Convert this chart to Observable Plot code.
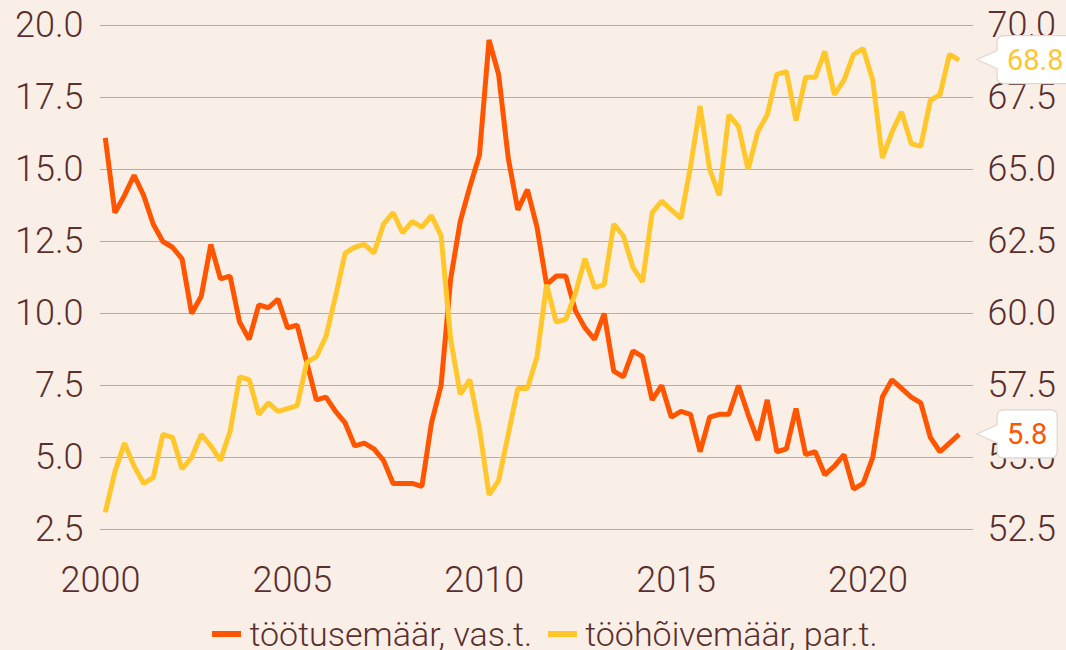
<!DOCTYPE html>
<html>
<head>
<meta charset="utf-8">
<script src="https://cdn.jsdelivr.net/npm/d3@7"></script>
<script src="https://cdn.jsdelivr.net/npm/@observablehq/plot@0.6"></script>
<style>
  html, body { margin: 0; padding: 0; background: #f9efe6; overflow: hidden; }
  body { width: 1066px; height: 650px; font-family: Roboto, "Noto Sans", sans-serif; color: #5b2f2f; position: relative; }
  #chart svg { display: block; }
  #legend { position: absolute; left: 0; top: 614px; width: 1066px; display: flex; justify-content: center;
            padding-left: 24px; box-sizing: border-box; font-size: 34px; font-weight: 300; line-height: 40px; white-space: nowrap; }
  .item { display: flex; align-items: center; margin: 0 8px; }
  .sw { display: inline-block; width: 29px; height: 6px; margin-right: 8px; }
</style>
</head>
<body>
<div id="chart"></div>
<div id="legend"></div>
<script>
// ---- data ----
const startYear = 2000;            // first quarter: 2000 Q1, last: 2022 Q2
const seriesNames = ["töötusemäär, vas.t.", "tööhõivemäär, par.t."];
const seriesColors = ["#ff5500", "#ffc72c"];
const unemployment = [
  16.1, 13.5, 14.1, 14.8, 14.1, 13.1, 12.5, 12.3, 11.9, 10.0,
  10.6, 12.4, 11.2, 11.3, 9.7, 9.1, 10.3, 10.2, 10.5, 9.5,
  9.6, 8.3, 7.0, 7.1, 6.6, 6.2, 5.4, 5.5, 5.3, 4.9,
  4.1, 4.1, 4.1, 4.0, 6.2, 7.5, 11.2, 13.2, 14.4, 15.5,
  19.5, 18.3, 15.4, 13.6, 14.3, 13.0, 11.0, 11.3, 11.3, 10.1,
  9.5, 9.1, 10.0, 8.0, 7.8, 8.7, 8.5, 7.0, 7.5, 6.4,
  6.6, 6.5, 5.2, 6.4, 6.5, 6.5, 7.5, 6.5, 5.6, 7.0,
  5.2, 5.3, 6.7, 5.1, 5.2, 4.4, 4.7, 5.1, 3.9, 4.1,
  5.0, 7.1, 7.7, 7.4, 7.1, 6.9, 5.7, 5.2, 5.5, 5.8
];
const employment = [
  53.1, 54.5, 55.5, 54.7, 54.1, 54.3, 55.8, 55.7, 54.6, 55.0,
  55.8, 55.4, 54.9, 55.9, 57.8, 57.7, 56.5, 56.9, 56.6, 56.7,
  56.8, 58.3, 58.5, 59.2, 60.6, 62.1, 62.3, 62.4, 62.1, 63.1,
  63.5, 62.8, 63.2, 63.0, 63.4, 62.7, 59.1, 57.2, 57.7, 56.0,
  53.7, 54.2, 55.8, 57.4, 57.4, 58.5, 61.0, 59.7, 59.8, 60.7,
  61.9, 60.9, 61.0, 63.1, 62.7, 61.6, 61.1, 63.5, 63.9, 63.6,
  63.3, 65.1, 67.2, 65.0, 64.1, 66.9, 66.5, 65.0, 66.3, 66.9,
  68.3, 68.4, 66.7, 68.2, 68.2, 69.1, 67.6, 68.1, 69.0, 69.2,
  68.1, 65.4, 66.3, 67.0, 65.9, 65.8, 67.4, 67.6, 69.0, 68.8
];
const leftTicks = [2.5, 5.0, 7.5, 10.0, 12.5, 15.0, 17.5, 20.0];
const rightOffset = 50;             // right axis = left axis + 50
const xTicks = [2000, 2005, 2010, 2015, 2020];
const xDomain = [2000, 2022.75];

// ---- table ----
const rows = unemployment.map((u, i) => ({
  t: startYear + Math.floor(i / 4) + ((i % 4) + 0.5) / 4,
  u,
  e: employment[i]
}));

const textColor = "#5b2f2f";
const gridColor = "#bcaaa5";

const ctx = document.createElement("canvas").getContext("2d");
function textWidth(str, font) { ctx.font = font; return ctx.measureText(str).width; }

function callout(label, yValue, color) {
  return (index, scales, values, dims) => {
    const tx = dims.width - dims.marginRight + 4;
    const ty = scales.y(yValue);
    const fs = 29;
    const w = textWidth(label, `400 ${fs}px Roboto`) + 20;
    const h = 48, pl = 20, pb = 9, r = 7;
    const bx = tx + pl, top = ty - h / 2, bot = ty + h / 2;
    const d = `M${tx},${ty} L${bx},${ty - pb} L${bx},${top + r} Q${bx},${top} ${bx + r},${top}
      L${bx + w - r},${top} Q${bx + w},${top} ${bx + w},${top + r} L${bx + w},${bot - r}
      Q${bx + w},${bot} ${bx + w - r},${bot} L${bx + r},${bot} Q${bx},${bot} ${bx},${bot - r}
      L${bx},${ty + pb} Z`;
    const g = d3.create("svg:g");
    g.append("path").attr("d", d).attr("fill", "#ffffff").attr("stroke", "#ddd6d2").attr("stroke-width", 1.2);
    g.append("text").attr("x", bx + 10).attr("y", ty).attr("dy", "0.36em")
      .attr("text-anchor", "start")
      .attr("fill", color).attr("font-size", fs).attr("font-weight", 400).text(label);
    return g.node();
  };
}

const last = rows.length - 1;
const plot = Plot.plot({
  width: 1066,
  height: 600,
  marginLeft: 100,
  marginRight: 93,
  marginTop: 25,
  marginBottom: 71,
  style: { background: "transparent", fontFamily: "Roboto", fontSize: "36px", fontWeight: 300, color: textColor, overflow: "visible" },
  x: { domain: xDomain, label: null },
  y: { domain: [leftTicks[0], leftTicks[leftTicks.length - 1]], label: null },
  marks: [
    Plot.ruleY(leftTicks, { stroke: gridColor, strokeWidth: 1 }),
    Plot.axisY(leftTicks, { anchor: "left", tickSize: 0, tickPadding: 17, label: null, tickFormat: d => d.toFixed(1), fill: textColor }),
    Plot.axisY(leftTicks, { anchor: "right", tickSize: 0, tickPadding: 14, label: null, tickFormat: d => (d + rightOffset).toFixed(1), fill: textColor }),
    Plot.axisX(xTicks, { anchor: "bottom", tickSize: 0, tickPadding: 37, label: null, tickFormat: d => String(d), fill: textColor }),
    Plot.line(rows, { x: "t", y: "u", stroke: seriesColors[0], strokeWidth: 5, strokeLinejoin: "miter", strokeLinecap: "butt" }),
    Plot.line(rows, { x: "t", y: d => d.e - rightOffset, stroke: seriesColors[1], strokeWidth: 5, strokeLinejoin: "miter", strokeLinecap: "butt" }),
    callout(employment[last].toFixed(1), employment[last] - rightOffset, seriesColors[1]),
    callout(unemployment[last].toFixed(1), unemployment[last], seriesColors[0])
  ]
});
document.getElementById("chart").appendChild(plot);

const legend = document.getElementById("legend");
seriesNames.forEach((name, i) => {
  const item = document.createElement("span");
  item.className = "item";
  const sw = document.createElement("span");
  sw.className = "sw";
  sw.style.background = seriesColors[i];
  item.appendChild(sw);
  item.appendChild(document.createTextNode(name));
  legend.appendChild(item);
});
</script>
</body>
</html>
